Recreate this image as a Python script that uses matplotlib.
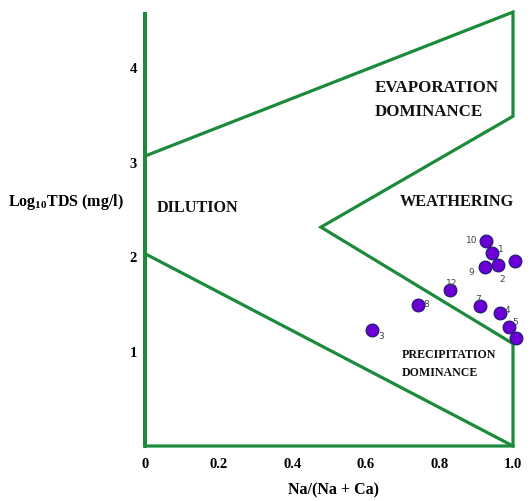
import matplotlib
matplotlib.use("Agg")
import matplotlib.pyplot as plt

plt.rcParams['mathtext.fontset'] = 'custom'
plt.rcParams['mathtext.rm'] = 'Liberation Serif:bold'
plt.rcParams['mathtext.default'] = 'rm'

# Gibbs diagram boundary (Na/(Na+Ca), log10 TDS)
upper_x = [0.0, 1.0, 1.0, 0.478, 1.0, 1.0, 0.0, 0.0, 0.0]
upper_y = [3.06, 4.58, 3.48, 2.31, 1.08, 0.0, 0.0, 4.58, 0.0]
lower_x = [0.0, 1.0]
lower_y = [2.03, 0.0]

# Samples
sample_ids = ['1', '2', '3', '4', '5', '6', '7', '8', '9', '10', '11', '12']
ratio = [0.944, 0.958, 0.618, 0.965, 0.988, 1.005, 0.910, 0.741, 0.924, 0.926, 1.008, 0.829]
log_tds = [2.04, 1.91, 1.22, 1.40, 1.26, 1.95, 1.48, 1.49, 1.89, 2.16, 1.14, 1.65]
label_offsets = {'1': (4, 3), '2': (1, -10), '3': (4, -4), '4': (3, 3), '5': (3, 4),
                 '6': (5, -3), '7': (-3, 5), '8': (4, 1), '9': (-12, -3), '10': (-14, 1),
                 '11': (3, 3), '12': (-3, 5)}

xticks = [0, 0.2, 0.4, 0.6, 0.8, 1.0]
xticklabels = ['0', '0.2', '0.4', '0.6', '0.8', '1.0']
yticks = [1, 2, 3, 4]
yticklabels = ['1', '2', '3', '4']

green = '#1b8a3a'
W, H = 531, 502
fig = plt.figure(figsize=(W / 100, H / 100), dpi=100)
ax = fig.add_axes([145 / W, (H - 447) / H, 368 / W, 379 / H])
ax.set_xlim(0, 1)
ax.set_ylim(0, 4)
for s in ax.spines.values():
    s.set_visible(False)

ax.plot(upper_x, upper_y, color=green, lw=2.3, clip_on=False, solid_joinstyle='miter')
ax.plot(lower_x, lower_y, color=green, lw=2.3, clip_on=False)

ax.scatter(ratio, log_tds, s=85, color='#6a00d4', edgecolor='#1a1a6e', linewidth=0.8,
           zorder=5, clip_on=False)
for sid, xv, yv in zip(sample_ids, ratio, log_tds):
    dx, dy = label_offsets[sid]
    ax.annotate(sid, (xv, yv), xytext=(dx, dy), textcoords='offset points',
                fontsize=6.5, color='#444444', ha='left', va='center', zorder=6)

serif = 'Liberation Serif'
ax.set_xticks(xticks)
ax.set_xticklabels(xticklabels, fontfamily=serif, fontweight='bold', fontsize=10.5)
ax.set_yticks(yticks)
ax.set_yticklabels(yticklabels, fontfamily=serif, fontweight='bold', fontsize=10.5)
ax.tick_params(axis='both', length=0)
ax.tick_params(axis='x', pad=8)
ax.tick_params(axis='y', pad=6)

region_kw = dict(fontfamily=serif, fontweight='bold', color='#111111')
fig.text(375 / W, 1 - 88 / H, 'EVAPORATION', fontsize=12.2, ha='left', va='center', **region_kw)
fig.text(375 / W, 1 - 112 / H, 'DOMINANCE', fontsize=12.2, ha='left', va='center', **region_kw)
fig.text(400 / W, 1 - 202 / H, 'WEATHERING', fontsize=11.7, ha='left', va='center', **region_kw)
fig.text(157 / W, 1 - 208 / H, 'DILUTION', fontsize=11.7, ha='left', va='center', **region_kw)
fig.text(402 / W, 1 - 355 / H, 'PRECIPITATION', fontsize=8.6, ha='left', va='center', **region_kw)
fig.text(402 / W, 1 - 373 / H, 'DOMINANCE', fontsize=8.6, ha='left', va='center', **region_kw)

fig.text(8 / W, 1 - 202 / H, r'Log$_{10}$TDS (mg/l)', fontsize=11.5, ha='left', va='center',
         fontfamily=serif, fontweight='bold')
fig.text(333 / W, 1 - 490 / H, 'Na/(Na + Ca)', fontsize=11.5, ha='center', va='center',
         fontfamily=serif, fontweight='bold')

fig.savefig('out.png', dpi=100, facecolor='white')
